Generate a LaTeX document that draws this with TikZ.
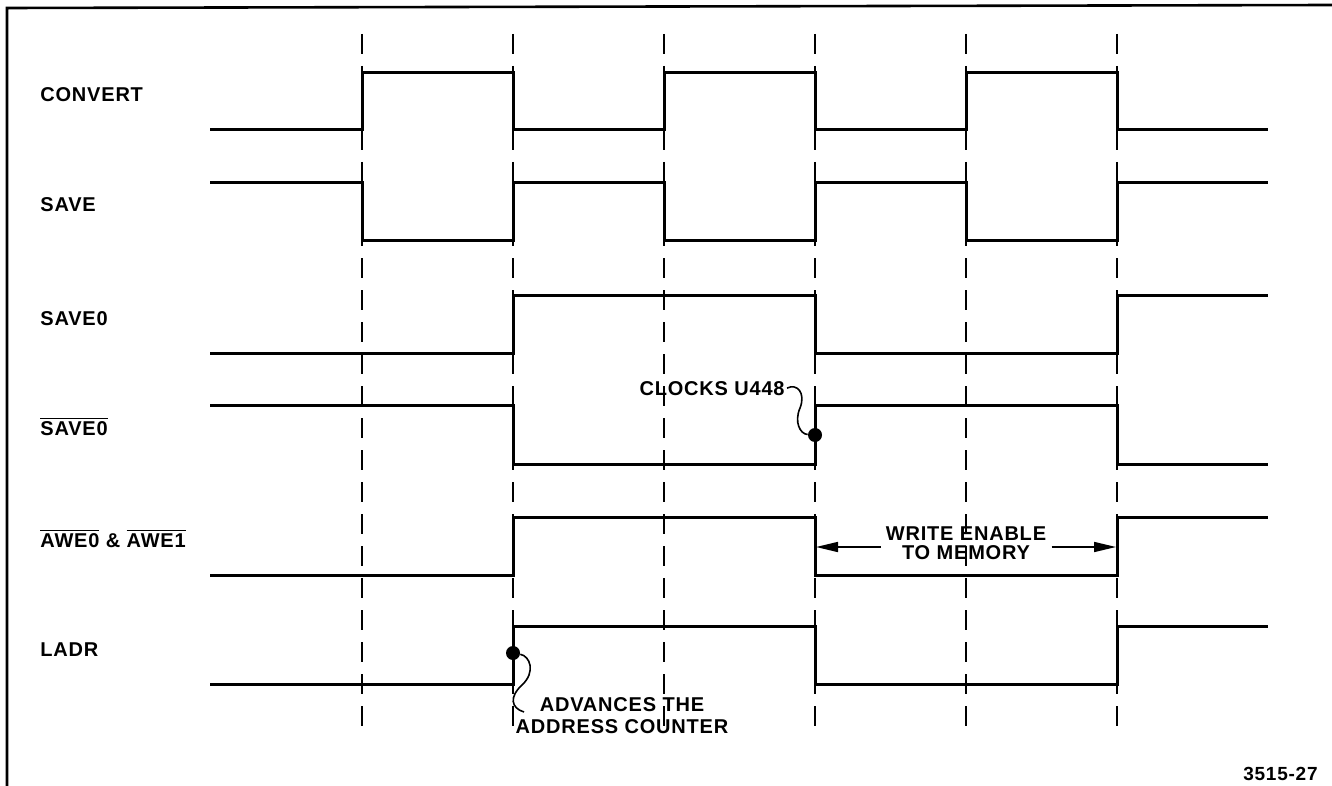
\documentclass[tikz,border=0pt]{standalone}
\usepackage{fontspec}
\setmainfont{Liberation Sans}[LetterSpace=4]
\usetikzlibrary{arrows.meta}

\begin{document}
\begin{tikzpicture}[x=0.5pt,y=-0.5pt,>={Triangle[length=11pt,width=5pt]},font=\fontsize{10}{11}\selectfont\bfseries]
\tikzstyle{sig}=[line width=1.5pt,line join=miter]
\tikzstyle{timeline}=[line width=0.9pt,dash pattern=on 10pt off 6pt]
\tikzstyle{lbl}=[anchor=base west,inner sep=0pt]
\tikzstyle{note}=[align=center,inner ysep=0pt,inner xsep=2.5pt]
\tikzstyle{dot}=[circle,fill,inner sep=0pt,minimum size=7pt]
\useasboundingbox (0,0) rectangle (1332,786);
\draw[line width=1.3pt] (7,786) -- (7,8) -- (1332,5);
% time marks
\foreach \x in {362,513,664,815,966,1117} \draw[timeline] (\x,34) -- (\x,732);
% signal names
\node[lbl] (convert) at (40,102) {CONVERT};
\node[lbl] (save) at (40,212) {SAVE};
\node[lbl] (savez) at (40,325) {SAVE0};
\node[lbl] (savezbar) at (40,435) {$\overline{\hbox{SAVE0}}$};
\node[lbl] (awe) at (40,547) {$\overline{\hbox{AWE0}}$ \& $\overline{\hbox{AWE1}}$};
\node[lbl] (ladr) at (40,656) {LADR};
% waveforms
\draw[sig] (210,130) -| (362,73) -| (513,130) -| (664,73) -| (815,130) -| (966,73) -| (1117,130) -- (1268,130);
\draw[sig] (210,183) -| (362,241) -| (513,183) -| (664,241) -| (815,183) -| (966,241) -| (1117,183) -- (1268,183);
\foreach \lo/\hi in {353/295,405/464,575/517,684/626} \draw[sig] (210,\lo) -| (513,\hi) -| (815,\lo) -| (1117,\hi) -- (1268,\hi);
% notes
\node[dot] (clkdot) at (815,435) {};
\node[anchor=base east,inner sep=1pt] (clk) at (787,395) {CLOCKS U448};
\draw[line width=0.8pt] (clk.east) .. controls (797,383) and (806,393) .. (800,408) .. controls (794,422) and (800,434) .. (clkdot);
\node[dot] (ladrdot) at (513,653) {};
\node[note,anchor=north,font=\fontsize{10}{11}\selectfont\bfseries] (adv) at (622,697) {ADVANCES THE\\ADDRESS COUNTER};
\coordinate (advtip) at (524,712);
\draw[line width=0.8pt] (ladrdot) .. controls (530,656) and (536,672) .. (522,685) .. controls (509,697) and (511,708) .. (advtip);
\node[note,anchor=north,font=\fontsize{10}{9.5}\selectfont\bfseries] (we) at (966,526) {WRITE ENABLE\\TO MEMORY};
\coordinate (wel) at (816,547);
\coordinate (wer) at (1116,547);
\draw[->,line width=0.8pt] (we.west |- wel) -- (wel);
\draw[->,line width=0.8pt] (we.east |- wer) -- (wer);
\node[anchor=base east,inner sep=0pt,font=\fontsize{9.5}{11}\selectfont\bfseries] (fig) at (1318,780) {3515-27};
\end{tikzpicture}
\end{document}
